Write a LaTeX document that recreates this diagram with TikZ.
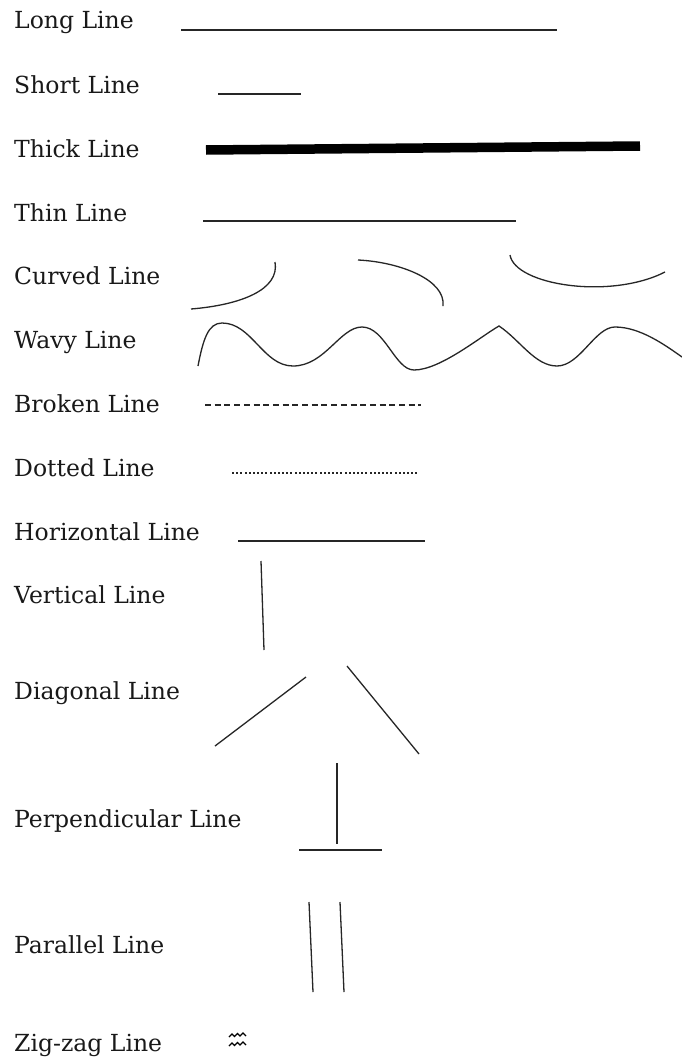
\documentclass[tikz,border=0pt]{standalone}
\usepackage{fontspec}
\setmainfont{DejaVu Serif}
\begin{document}
\begin{tikzpicture}[x=1pt,y=-1pt,
  lbl/.style={anchor=base west, inner sep=0pt, text=black!90, font=\fontsize{23.5}{28}\selectfont},
  ln/.style={line width=1.3pt, black!85}]
\useasboundingbox (0,0) rectangle (682,1057);
\fill[white] (0,0) rectangle (682,1057);
% labels
\node[lbl] (l1) at (14,29) {Long Line};
\node[lbl] (l2) at (14,93) {Short Line};
\node[lbl] (l3) at (14,157) {Thick Line};
\node[lbl] (l4) at (14,221) {Thin Line};
\node[lbl] (l5) at (14,284) {Curved Line};
\node[lbl] (l6) at (14,348) {Wavy Line};
\node[lbl] (l7) at (14,412) {Broken Line};
\node[lbl] (l8) at (14,476) {Dotted Line};
\node[lbl] (l9) at (14,540) {Horizontal Line};
\node[lbl] (l10) at (14,603) {Vertical Line};
\node[lbl] (l11) at (14,699) {Diagonal Line};
\node[lbl] (l12) at (14,827) {Perpendicular Line};
\node[lbl] (l13) at (14,953) {Parallel Line};
\node[lbl] (l14) at (14,1051) {Zig-zag Line};
% long, short
\draw[ln] (181,30) -- (557,30);
\draw[ln] (218,94) -- (301,94);
% thick
\draw[line width=9.5pt] (206,150) -- (640,146);
% thin
\draw[ln] (203,221) -- (516,221);
% curved
\draw[ln] (191,309) .. controls (240,305) and (280,290) .. (275,262);
\draw[ln] (358,260) .. controls (400,262) and (446,280) .. (443,306);
\draw[ln] (510,255) .. controls (515,285) and (610,300) .. (665,272);
% wavy
\draw[ln] (198,366) .. controls (203,340) and (208,323) .. (222,323)
  .. controls (252,323) and (263,366) .. (293,366)
  .. controls (325,366) and (340,327) .. (362,327)
  .. controls (385,327) and (395,370) .. (414,370)
  .. controls (440,370) and (480,337) .. (499,326)
  .. controls (520,340) and (535,366) .. (557,366)
  .. controls (580,366) and (595,327) .. (615,327)
  .. controls (640,327) and (665,345) .. (682,357);
% broken
\draw[line width=1.4pt, black!85, dash pattern=on 6pt off 3.7pt] (205,405) -- (421,405);
% dotted
\foreach \g in {0,...,14}{
  \foreach \d in {0,1,2}{
    \fill[black!85] ({232+12.5*\g+4*\d},472) rectangle ++(2.3,2.3);
  }
}
% horizontal
\draw[ln] (238,541) -- (425,541);
% vertical
\draw[ln] (261,561) -- (264,650);
% diagonal
\draw[ln] (306,677) -- (215,746);
\draw[ln] (347,666) -- (419,754);
% perpendicular
\draw[ln] (337,763) -- (337,844);
\draw[ln] (299,850) -- (382,850);
% parallel
\draw[ln] (309,902) -- (313,992);
\draw[ln] (340,902) -- (344,992);
% zig-zag
\draw[line width=1.1pt] (229,1037) -- (232,1034) -- (234.5,1036.5) -- (237.5,1033.5) -- (240,1036) -- (243,1033) -- (246,1036);
\draw[line width=1.1pt] (229,1046) -- (232,1043) -- (234.5,1045.5) -- (237.5,1042.5) -- (240,1045) -- (243,1042) -- (246,1045);
\end{tikzpicture}
\end{document}
